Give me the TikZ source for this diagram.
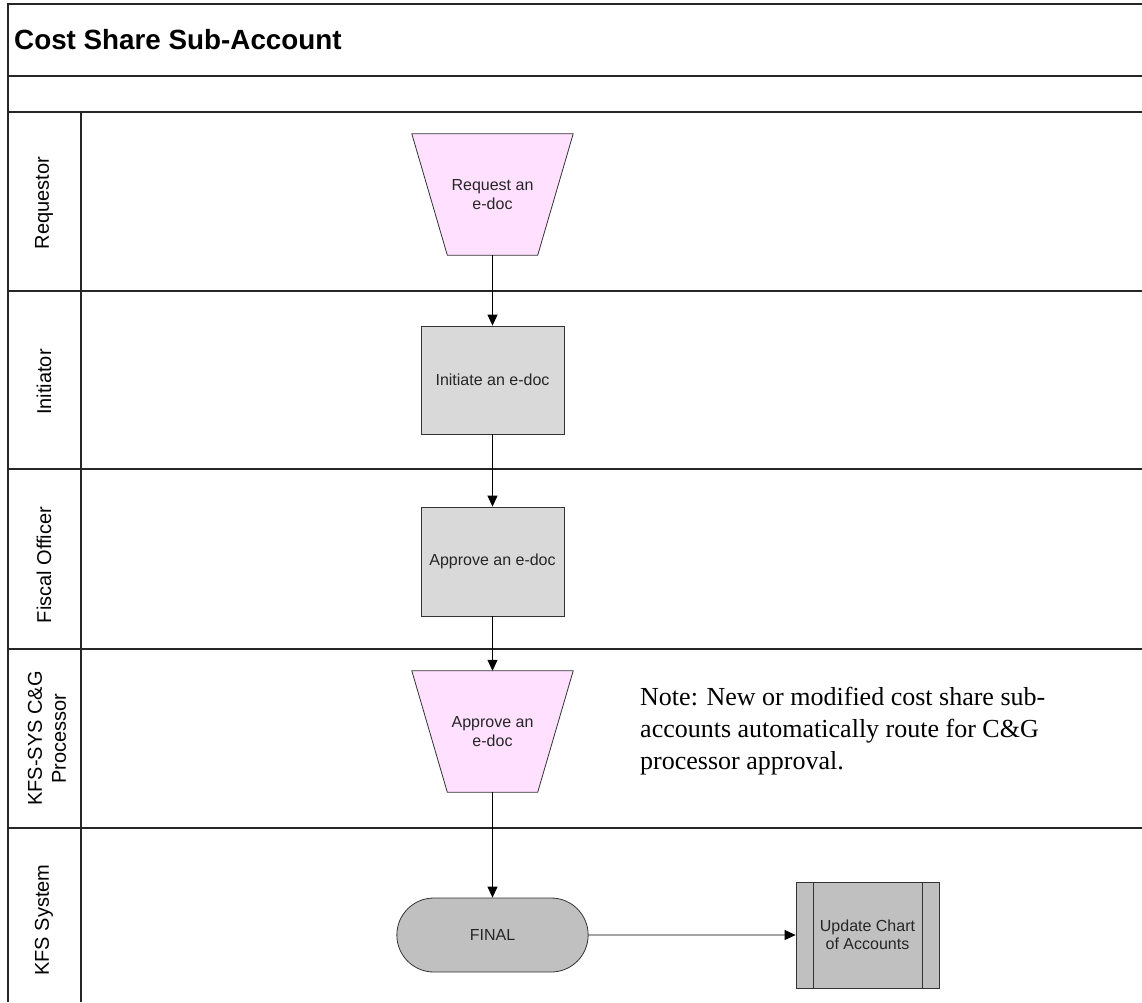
\documentclass[tikz,border=0pt]{standalone}
\usepackage{fontspec}
\setmainfont{Liberation Serif}
\newfontfamily\arialfont{Liberation Sans}
\usetikzlibrary{arrows.meta,shapes.misc}
\definecolor{pinkfill}{RGB}{255,224,255}
\definecolor{boxgray}{RGB}{217,217,217}
\definecolor{darkgray}{RGB}{192,192,192}
\begin{document}
\begin{tikzpicture}[x=1pt,y=-1pt,
  frame/.style={line width=1.4pt, draw=black!85},
  lanelabel/.style={font=\arialfont\fontsize{20}{24}\selectfont, rotate=90, align=center, inner sep=0pt},
  nodetext/.style={font=\arialfont\fontsize{16}{18.5}\selectfont, align=center, text=black!85},
  trapbox/.style={rectangle, minimum width=161pt, minimum height=121pt, nodetext, inner sep=0pt},
  trapline/.style={draw=black!80, fill=pinkfill, line width=0.8pt},
  procbox/.style={rectangle, minimum width=143pt, minimum height=108pt, draw=black!80, fill=boxgray, nodetext, line width=0.8pt},
  termbox/.style={rounded rectangle, minimum width=198pt, minimum height=74pt, draw=black!80, fill=darkgray, nodetext, line width=0.8pt},
  predef/.style={rectangle, minimum width=143pt, minimum height=106pt, draw=black!80, fill=darkgray, nodetext, line width=0.8pt},
  flow/.style={draw=black, line width=0.8pt, -{Triangle[length=11pt,width=10pt]}},
]
\useasboundingbox (0,0) rectangle (1142,1002);
% frame
\draw[frame] (1142,4) -- (8,4) -- (8,1002);
\foreach \yy in {76,112,291,469,649,828} {\draw[frame] (8,\yy) -- (1142,\yy);}
\draw[frame] (81,112) -- (81,1002);
% title
\node[anchor=base west, inner sep=0pt, font=\arialfont\bfseries\fontsize{27.8}{32}\selectfont] (title) at (14,49) {Cost Share Sub-Account};
% lane labels
\node[lanelabel] (l1) at (44,203) {Requestor};
\node[lanelabel] (l2) at (44,382) {Initiator};
\node[lanelabel] (l3) at (44,565) {Fiscal Officer};
\node[lanelabel] (l4) at (47,738.5) {KFS-SYS C\&G\\Processor};
\node[lanelabel] (l5) at (44,920) {KFS System};
% trapezoid shapes (manual input)
\node[trapbox] (req) at (492.5,194.5) {};
\draw[trapline] (req.north west) -- (req.north east) -- ([xshift=-35.5pt]req.south east) -- ([xshift=35.5pt]req.south west) -- cycle;
\node[nodetext] (reqt) at (req.center) {Request an\\e-doc};
\node[trapbox] (cg) at (492.5,731.5) {};
\draw[trapline] (cg.north west) -- (cg.north east) -- ([xshift=-35.5pt]cg.south east) -- ([xshift=35.5pt]cg.south west) -- cycle;
\node[nodetext] (cgt) at (cg.center) {Approve an\\e-doc};
% boxes
\node[procbox] (init) at (492.5,380) {Initiate an e-doc};
\node[procbox, minimum height=109pt] (fo) at (492.5,561.5) {Approve an e-doc};
\node[termbox] (final) at (492.5,935) {FINAL};
\node[predef] (upd) at (867.5,935) {Update Chart\\of Accounts};
\draw[draw=black!80, line width=0.8pt] ([xshift=18pt]upd.north west) -- ([xshift=18pt]upd.south west);
\draw[draw=black!80, line width=0.8pt] ([xshift=-17pt]upd.north east) -- ([xshift=-17pt]upd.south east);
% note
\node[anchor=north west, align=left, inner sep=0pt, font=\fontsize{26}{32}\selectfont] (note) at (640,687) {Note: New or modified cost share sub-\\accounts automatically route for C\&G\\processor approval.};
% connectors
\draw[flow] (req) -- (init);
\draw[flow] (init) -- (fo);
\draw[flow] (fo) -- (cg);
\draw[flow] (cg) -- (final);
\draw[flow] (final) -- (upd);
\end{tikzpicture}
\end{document}
